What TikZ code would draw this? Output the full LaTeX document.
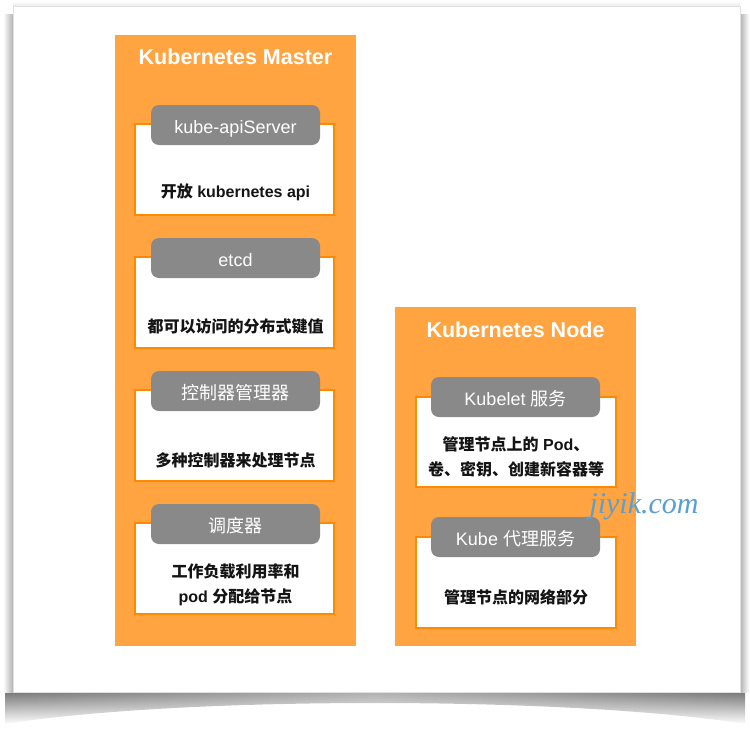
\documentclass[tikz,border=0pt]{standalone}
\usepackage{fontspec}
\usetikzlibrary{fadings}
\setmainfont{Liberation Sans}
\newfontfamily\zh{Noto Sans CJK SC}
\newfontfamily\wmfont{Liberation Serif}
\definecolor{kor}{RGB}{255,164,64}
\definecolor{kbd}{RGB}{255,138,0}
\definecolor{ktab}{RGB}{137,137,137}
\definecolor{kwm}{RGB}{90,158,210}
\tikzset{
  panel/.style={fill=kor, draw=none, inner sep=0pt},
  whitebox/.style={fill=white, draw=kbd, line width=2pt, inner sep=0pt, minimum width=199pt},
  tabbox/.style={fill=ktab, draw=none, rounded corners=8pt, inner sep=0pt,
    minimum width=169pt, minimum height=40pt, text=white, text height=17pt, text depth=0pt,
    font=\fontsize{18}{20}\selectfont},
  ptitle/.style={text=white, font=\fontsize{21.5}{24}\selectfont\bfseries, inner sep=0pt},
  bodytext/.style={font=\fontsize{16}{25}\selectfont\bfseries, align=center, inner sep=0pt, text=black!92},
}
\begin{document}
\begin{tikzpicture}[x=1pt,y=-1pt]
\useasboundingbox (0,0) rectangle (750,731);
% shadow and card
\shade[left color=black!60, right color=black!60, middle color=black!35, path fading=south]
  (6,688) -- (6,724) .. controls (180,696) and (570,696) .. (746,724) -- (746,688) -- cycle;
\shade[left color=white, right color=black!30] (3,14) rectangle (13,692);
\shade[left color=black!30, right color=white] (740,14) rectangle (749,692);
\shade[top color=white, bottom color=black!8] (13,1) rectangle (740,6);
\node[fill=white, draw=black!12, line width=0.6pt, inner sep=0pt,
  minimum width=727pt, minimum height=686pt] (card) at (376.5,349) {};

% Kubernetes Master
\node[panel, minimum width=241pt, minimum height=611pt] (master) at (235.5,340.5) {};
\node[ptitle] (mtitle) at (235.5,57) {Kubernetes Master};

\node[whitebox, minimum height=91pt] (m1) at (234.5,169.5) {};
\node[tabbox] (t1) at (235.5,125) {kube-apiServer};
\node[bodytext] (b1) at (235.5,192) {{\zh 开放} kubernetes api};

\node[whitebox, minimum height=91pt] (m2) at (234.5,302.5) {};
\node[tabbox] (t2) at (235.5,258) {etcd};
\node[bodytext] (b2) at (235.5,326) {\zh 都可以访问的分布式键值};

\node[whitebox, minimum height=91pt] (m3) at (234.5,435.5) {};
\node[tabbox] (t3) at (235.5,391) {\zh 控制器管理器};
\node[bodytext] (b3) at (235.5,460) {\zh 多种控制器来处理节点};

\node[whitebox, minimum height=91pt] (m4) at (234.5,568.5) {};
\node[tabbox] (t4) at (235.5,524) {\zh 调度器};
\node[bodytext] (b4) at (235.5,585) {{\zh 工作负载利用率和}\\pod {\zh 分配给节点}};

% Kubernetes Node
\node[panel, minimum width=241pt, minimum height=339pt] (knode) at (515.5,476.5) {};
\node[ptitle] (ntitle) at (515.5,330) {Kubernetes Node};

\node[whitebox, minimum width=200pt, minimum height=90pt] (n1) at (516,442) {};
\node[tabbox] (u1) at (515.5,397) {Kubelet {\zh 服务}};
\node[bodytext] (c1) at (516,457) {{\zh 管理节点上的} Pod{\zh 、}\\{\zh 卷、密钥、创建新容器等}};

\node[whitebox, minimum width=200pt, minimum height=91pt] (n2) at (516,582.5) {};
\node[tabbox] (u2) at (515.5,537) {Kube {\zh 代理服务}};
\node[bodytext] (c2) at (516,597) {\zh 管理节点的网络部分};

% watermark
\node[text=kwm, font=\wmfont\itshape\fontsize{30}{32}\selectfont, inner sep=0pt] (wm) at (644,506) {jiyik.com};
\end{tikzpicture}
\end{document}
